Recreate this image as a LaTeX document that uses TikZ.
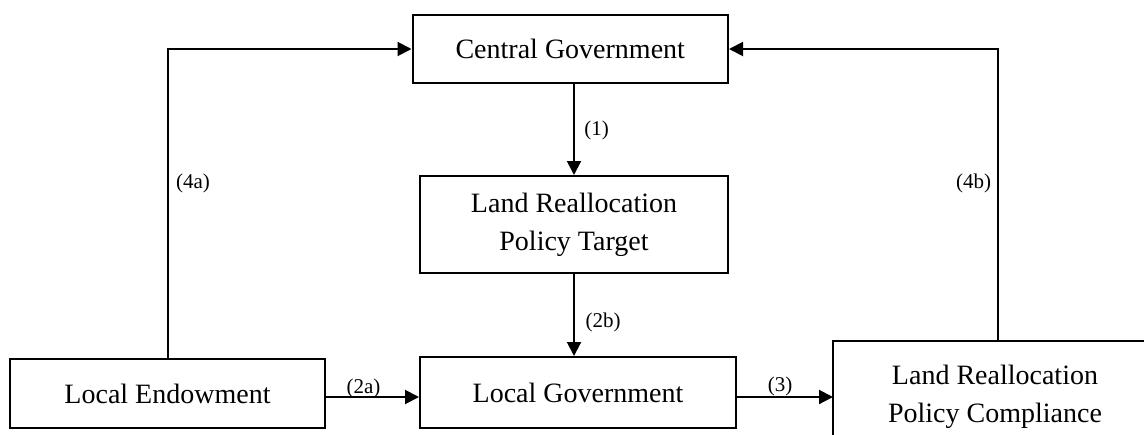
\documentclass[tikz,border=0pt]{standalone}
\usepackage{fontspec}
\setmainfont{Liberation Serif}
\usetikzlibrary{arrows.meta}
\begin{document}
\begin{tikzpicture}[x=0.5pt,y=-0.5pt,
  box/.style={draw,line width=1pt,inner sep=0pt,align=center,font=\fontsize{14}{19}\selectfont},
  openbox/.style={box,draw=none},
  frame/.style={line width=1pt},
  arr/.style={line width=1pt,-{Triangle[length=7pt,width=7pt]}},
  lab/.style={font=\fontsize{10.5}{12}\selectfont,inner sep=0pt}]
\useasboundingbox (0,0) rectangle (1144,434);
\node[box,minimum width=157.75pt,minimum height=34pt] (CG) at (570.25,49) {Central Government};
\node[box,minimum width=154pt,minimum height=48.5pt] (LRPT) at (574,224.5) {Land Reallocation\\Policy Target};
\node[box,minimum width=157.5pt,minimum height=34.5pt] (LE) at (167.5,393.5) {Local Endowment};
\node[box,minimum width=158pt,minimum height=35.5pt] (LG) at (578,392.5) {Local Government};
\node[openbox,minimum width=161pt,minimum height=55pt] (LRPC) at (995,397) {Land Reallocation\\Policy Compliance};
\draw[frame] ([yshift=-20pt]LRPC.south west) -- (LRPC.north west) -- ([xshift=20pt]LRPC.north east);
\draw[arr] (LRPT.north |- CG.south) -- (LRPT.north);
\draw[arr] (LRPT.south) -- (LRPT.south |- LG.north);
\draw[arr] (LE.east |- LRPC.west) -- (LG.west |- LRPC.west);
\draw[arr] (LG.east |- LRPC.west) -- (LRPC.west);
\draw[arr] (LE.north) |- (CG.west);
\draw[arr] ([xshift=1.5pt]LRPC.north) |- (CG.east);
\node[lab] (l1) at (596.5,130) {(1)};
\node[lab] (l2b) at (603,322) {(2b)};
\node[lab] (l4a) at (193,183) {(4a)};
\node[lab] (l4b) at (973.5,183) {(4b)};
\node[lab] (l2a) at (363.5,388) {(2a)};
\node[lab] (l3) at (780,386) {(3)};
\end{tikzpicture}
\end{document}
